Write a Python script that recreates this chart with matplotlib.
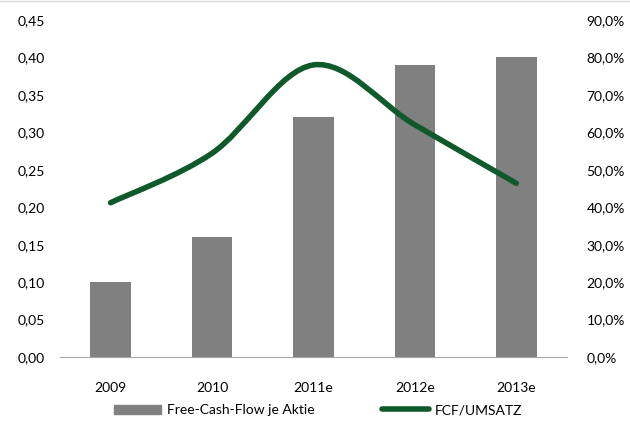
import matplotlib.pyplot as plt
from matplotlib.path import Path
from matplotlib.patches import PathPatch
from matplotlib.lines import Line2D
from matplotlib.ticker import FuncFormatter

jahre = ['2009', '2010', '2011e', '2012e', '2013e']
fcf_je_aktie = [0.10, 0.16, 0.32, 0.39, 0.40]
fcf_umsatz = [41.2, 54.4, 78.0, 62.0, 46.4]

plt.rcParams['font.family'] = ['Lato', 'DejaVu Sans']
grau = '#808080'
gruen = '#0f5a2a'

fig = plt.figure(figsize=(6.3, 4.21), dpi=100)
ax = fig.add_axes([0.095, 0.152, 0.805, 0.8005])
x = list(range(len(jahre)))
ax.bar(x, fcf_je_aktie, width=0.4, color=grau, zorder=2)
ax.set_xlim(-0.5, len(jahre) - 0.5)
ax.set_ylim(0, 0.45)
ax.set_yticks([i * 0.05 for i in range(10)])
ax.yaxis.set_major_formatter(FuncFormatter(lambda v, p: ('%.2f' % v).replace('.', ',')))
ax.set_xticks(x)
ax.set_xticklabels(jahre)
for s in ['top', 'left', 'right']:
    ax.spines[s].set_visible(False)
ax.spines['bottom'].set_color('#a6a6a6')
ax.tick_params(axis='y', length=0, pad=11, labelsize=10, colors='black')
ax.tick_params(axis='x', length=0, pad=18, labelsize=10)

ax2 = ax.twinx()
ax2.set_ylim(0, 90)
ax2.set_yticks(range(0, 100, 10))
ax2.yaxis.set_major_formatter(FuncFormatter(lambda v, p: ('%.1f%%' % v).replace('.', ',')))
for s in ['top', 'left', 'right', 'bottom']:
    ax2.spines[s].set_visible(False)
ax2.tick_params(axis='y', length=0, pad=14, labelsize=10)

# geglaettete Linie wie in Excel (Bezier-Kurve durch die Punkte)
pts = list(zip(x, fcf_umsatz))
verts = [pts[0]]
codes = [Path.MOVETO]
n = len(pts)
for i in range(n - 1):
    p0 = pts[max(i - 1, 0)]
    p1 = pts[i]
    p2 = pts[i + 1]
    p3 = pts[min(i + 2, n - 1)]
    c1 = (p1[0] + (p2[0] - p0[0]) / 6, p1[1] + (p2[1] - p0[1]) / 6)
    c2 = (p2[0] - (p3[0] - p1[0]) / 6, p2[1] - (p3[1] - p1[1]) / 6)
    verts += [c1, c2, p2]
    codes += [Path.CURVE4] * 3
patch = PathPatch(Path(verts, codes), facecolor='none', edgecolor=gruen,
                  lw=4, capstyle='round', joinstyle='round', zorder=3)
ax2.add_patch(patch)

handles = [plt.Rectangle((0, 0), 1, 1, color=grau),
           Line2D([0], [0], color=gruen, lw=4, solid_capstyle='round')]
fig.legend(handles, ['Free-Cash-Flow je Aktie', 'FCF/UMSATZ'], loc='lower center',
           bbox_to_anchor=(0.505, -0.018), ncol=2, frameon=False, fontsize=10,
           handlelength=3.4, handleheight=0.6, handletextpad=0.4, columnspacing=4.9)

fig.add_artist(Line2D([0, 1], [0.997, 0.997], color='#d9d9d9', lw=1))
fig.savefig('out.png', dpi=100)
